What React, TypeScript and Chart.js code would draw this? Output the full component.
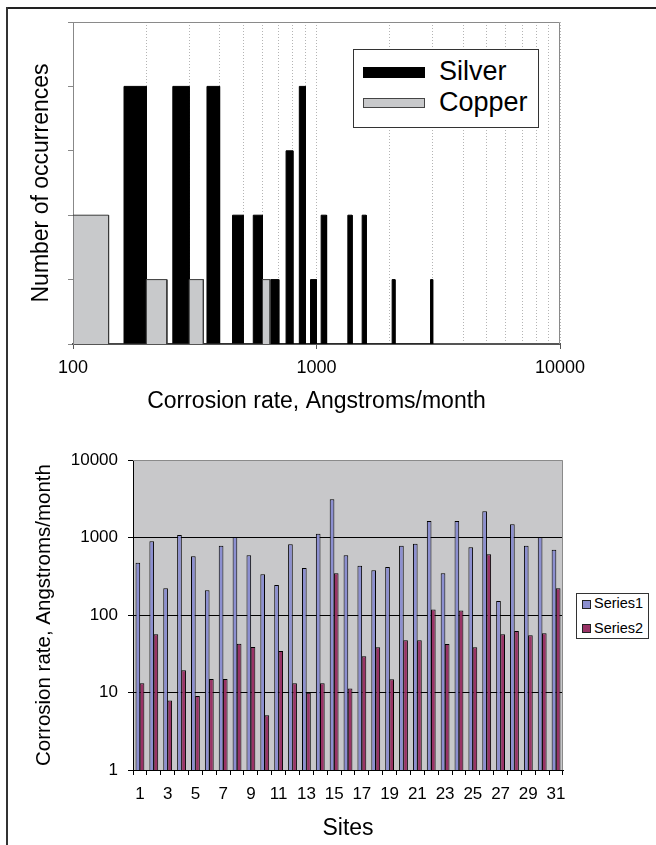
import React, { useEffect, useRef } from "react";
import { Chart, registerables } from "chart.js";

Chart.register(...registerables);

const FONT = '"Liberation Sans", Arial, Helvetica, sans-serif';

// ---------- Top chart: histogram of corrosion rates ----------
const silverBinStart = [162, 257, 355, 452, 550, 650, 750, 850, 945, 1045, 1345, 1540, 2045, 2940];
const silverBinEnd = [200, 300, 400, 500, 600, 700, 800, 900, 1000, 1100, 1400, 1600, 2100, 3000];
const silverCounts = [4, 4, 4, 2, 2, 1, 3, 4, 1, 2, 2, 2, 1, 1];

const copperBinStart = [100, 200, 300, 600];
const copperBinEnd = [140, 243, 343, 645];
const copperCounts = [2, 1, 1, 1];

const rateGridValues = [100, 200, 300, 400, 500, 600, 700, 800, 900, 1000, 2000, 3000, 4000, 5000, 6000, 7000, 8000, 9000, 10000];
const rateLabelValues = [100, 1000, 10000];
const rateTickLabels = ["100", "1000", "10000"];
const countTicks = [0, 1, 2, 3, 4, 5];

// ---------- Bottom chart: corrosion rate by site ----------
const siteLabels = ["1", "2", "3", "4", "5", "6", "7", "8", "9", "10", "11", "12", "13", "14", "15", "16", "17", "18", "19", "20", "21", "22", "23", "24", "25", "26", "27", "28", "29", "30", "31"];
const series1 = [473, 893, 221, 1077, 572, 208, 785, 1015, 589, 335, 244, 817, 404, 1120, 3112, 589, 433, 378, 416, 785, 832, 1633, 345, 1633, 747, 2178, 152, 1480, 785, 1015, 696];
const series2 = [13.2, 56.4, 7.9, 19.3, 9.0, 14.9, 14.9, 42.6, 38.6, 5.1, 34.3, 13.2, 9.9, 13.2, 345, 11.3, 29.3, 38.3, 14.8, 47.1, 47.1, 118, 42.3, 114, 38.3, 607, 56.4, 62.2, 54.7, 58, 221];
const corrosionTicks = [1, 10, 100, 1000, 10000];
const corrosionTickLabels = ["1", "10", "100", "1000", "10000"];

function histogramPoints(starts: number[], ends: number[], counts: number[]) {
  const pts: { x: number; y: number }[] = [];
  for (let i = 0; i < counts.length; i++) {
    pts.push({ x: starts[i], y: 0 });
    pts.push({ x: starts[i], y: counts[i] });
    pts.push({ x: ends[i], y: counts[i] });
    pts.push({ x: ends[i], y: 0 });
  }
  return pts;
}

const framePlugin = {
  id: "frame",
  beforeDraw(chart: any, _args: any, opts: any) {
    if (!opts || !opts.fill) return;
    const { ctx, chartArea: a } = chart;
    ctx.save();
    ctx.fillStyle = opts.fill;
    ctx.fillRect(a.left, a.top, a.right - a.left, a.bottom - a.top);
    ctx.restore();
  },
  afterDraw(chart: any, _args: any, opts: any) {
    if (!opts || !opts.stroke) return;
    const { ctx, chartArea: a } = chart;
    ctx.save();
    ctx.strokeStyle = opts.stroke;
    ctx.lineWidth = opts.width || 1;
    ctx.beginPath();
    ctx.moveTo(a.left, a.top + 0.5);
    ctx.lineTo(a.right - 0.5, a.top + 0.5);
    ctx.lineTo(a.right - 0.5, a.bottom);
    ctx.stroke();
    ctx.restore();
  },
};

export default function App() {
  const topRef = useRef<HTMLCanvasElement>(null);
  const botRef = useRef<HTMLCanvasElement>(null);

  useEffect(() => {
    Chart.defaults.font.family = FONT;
    Chart.defaults.color = "#000";

    const c1 = new Chart(topRef.current as HTMLCanvasElement, {
      type: "line",
      data: {
        datasets: [
          {
            label: "Silver",
            data: histogramPoints(silverBinStart, silverBinEnd, silverCounts),
            borderColor: "#000",
            backgroundColor: "#000",
            borderWidth: 1,
            fill: "origin",
            pointRadius: 0,
            tension: 0,
            order: 2,
          },
          {
            label: "Copper",
            data: histogramPoints(copperBinStart, copperBinEnd, copperCounts),
            borderColor: "#3a3a3a",
            backgroundColor: "#c8c9cb",
            borderWidth: 1,
            fill: "origin",
            pointRadius: 0,
            tension: 0,
            order: 1,
          },
        ],
      },
      options: {
        responsive: false,
        animation: false,
        devicePixelRatio: 1,
        layout: { padding: { left: 0, top: 22, right: 96, bottom: 0 } },
        plugins: {
          legend: { display: false },
          tooltip: { enabled: false },
          frame: { stroke: "#8a8a8a" },
        } as any,
        scales: {
          x: {
            type: "logarithmic",
            min: 100,
            max: 10000,
            afterBuildTicks: (s: any) => {
              s.ticks = rateGridValues.map((v) => ({ value: v }));
            },
            afterFit: (s: any) => {
              s.height = 76;
            },
            grid: {
              color: "#b4b4b4",
              lineWidth: 1,
              drawTicks: true,
              tickLength: 5,
              tickColor: (ctx: any) =>
                ctx.tick && rateLabelValues.includes(ctx.tick.value) ? "#555" : "rgba(0,0,0,0)",
            },
            border: { color: "#555", width: 2, dash: [1, 2] },
            ticks: {
              autoSkip: false,
              maxRotation: 0,
              padding: 8,
              color: "#000",
              font: { size: 18 },
              callback: (v: any) => {
                const i = rateLabelValues.indexOf(Number(v));
                return i >= 0 ? rateTickLabels[i] : "";
              },
            },
            title: {
              display: true,
              text: "Corrosion rate, Angstroms/month",
              color: "#000",
              font: { size: 23 },
              padding: { top: 0, bottom: 5 },
            },
          },
          y: {
            type: "linear",
            min: 0,
            max: 5,
            afterBuildTicks: (s: any) => {
              s.ticks = countTicks.map((v) => ({ value: v }));
            },
            afterFit: (s: any) => {
              s.width = 73;
            },
            grid: {
              drawOnChartArea: false,
              drawTicks: true,
              tickLength: 5,
              tickColor: "#888",
            },
            border: { color: "#888", width: 1 },
            ticks: { display: false },
            title: {
              display: true,
              text: "Number of occurrences",
              color: "#000",
              font: { size: 23 },
              padding: { top: 28, bottom: 0 },
            },
          },
        },
      } as any,
      plugins: [framePlugin as any],
    });

    const c2 = new Chart(botRef.current as HTMLCanvasElement, {
      type: "bar",
      data: {
        labels: siteLabels,
        datasets: [
          {
            label: "Series1",
            data: series1,
            backgroundColor: "#8c8fd0",
            borderColor: "#000",
            borderWidth: 1,
            categoryPercentage: 0.6,
            barPercentage: 1.12,
          },
          {
            label: "Series2",
            data: series2,
            backgroundColor: "#993366",
            borderColor: "#000",
            borderWidth: 1,
            categoryPercentage: 0.6,
            barPercentage: 1.12,
          },
        ],
      },
      options: {
        responsive: false,
        animation: false,
        devicePixelRatio: 1,
        layout: { padding: { left: 0, top: 40, right: 93, bottom: 0 } },
        plugins: {
          legend: { display: false },
          tooltip: { enabled: false },
          frame: { fill: "#c8c8ca", stroke: "#8a8a8a" },
        } as any,
        scales: {
          x: {
            type: "category",
            offset: true,
            afterFit: (s: any) => {
              s.height = 75;
            },
            grid: {
              offset: true,
              drawOnChartArea: false,
              drawTicks: true,
              tickLength: 5,
              tickColor: "#000",
            },
            border: { color: "#000", width: 1 },
            ticks: {
              autoSkip: false,
              maxRotation: 0,
              padding: 9,
              color: "#000",
              font: { size: 17 },
              callback: (_v: any, i: number) => (i % 2 === 0 ? siteLabels[i] : ""),
            },
            title: {
              display: true,
              text: "Sites",
              color: "#000",
              font: { size: 23 },
              padding: { top: 0, bottom: 3 },
            },
          },
          y: {
            type: "logarithmic",
            min: 1,
            max: 10000,
            afterBuildTicks: (s: any) => {
              s.ticks = corrosionTicks.map((v) => ({ value: v }));
            },
            afterFit: (s: any) => {
              s.width = 133;
            },
            grid: {
              color: (ctx: any) =>
                ctx.tick && (ctx.tick.value === 1 || ctx.tick.value === 10000) ? "rgba(0,0,0,0)" : "#000",
              lineWidth: 1,
              drawTicks: true,
              tickLength: 5,
              tickColor: "#000",
            },
            border: { color: "#000", width: 1 },
            ticks: {
              padding: 10,
              color: "#000",
              font: { size: 17 },
              callback: (v: any) => {
                const i = corrosionTicks.indexOf(Number(v));
                return i >= 0 ? corrosionTickLabels[i] : "";
              },
            },
            title: {
              display: true,
              text: "Corrosion rate, Angstroms/month",
              color: "#000",
              font: { size: 20.5 },
              padding: { top: 32, bottom: 0 },
            },
          },
        },
      } as any,
      plugins: [framePlugin as any],
    });

    return () => {
      c1.destroy();
      c2.destroy();
    };
  }, []);

  const abs = (s: React.CSSProperties): React.CSSProperties => ({ position: "absolute", ...s });

  return (
    <div style={abs({ left: 0, top: 0, width: 656, height: 845, background: "#fff", overflow: "hidden", fontFamily: FONT, color: "#000" })}>
      <canvas ref={topRef} width={656} height={420} style={abs({ left: 0, top: 0 })} />
      <canvas ref={botRef} width={656} height={425} style={abs({ left: 0, top: 420 })} />

      {/* outer frame */}
      <div style={abs({ left: 6, top: 7, width: 650, height: 2, background: "#222" })} />
      <div style={abs({ left: 6, top: 7, width: 2, height: 838, background: "#333" })} />

      {/* top legend */}
      <div style={abs({ left: 353, top: 49, width: 184, height: 77, border: "1px solid #333", background: "#fff" })} />
      <div style={abs({ left: 363, top: 67, width: 62, height: 11, background: "#000" })} />
      <div style={abs({ left: 363, top: 98, width: 60, height: 8, background: "#c8c9cb", border: "1px solid #444" })} />
      <span style={abs({ left: 439, top: 58, fontSize: 27, lineHeight: "27px", whiteSpace: "nowrap" })}>Silver</span>
      <span style={abs({ left: 439, top: 89, fontSize: 27, lineHeight: "27px", whiteSpace: "nowrap" })}>Copper</span>

      {/* bottom legend */}
      <div style={abs({ left: 576, top: 593, width: 71, height: 44, border: "1px solid #333", background: "#fff" })} />
      <div style={abs({ left: 582, top: 600, width: 7, height: 7, background: "#8c8fd0", border: "1px solid #222" })} />
      <div style={abs({ left: 582, top: 624, width: 7, height: 7, background: "#993366", border: "1px solid #222" })} />
      <span style={abs({ left: 594, top: 596, fontSize: 14.5, lineHeight: "14.5px", whiteSpace: "nowrap" })}>Series1</span>
      <span style={abs({ left: 594, top: 621, fontSize: 14.5, lineHeight: "14.5px", whiteSpace: "nowrap" })}>Series2</span>
    </div>
  );
}
